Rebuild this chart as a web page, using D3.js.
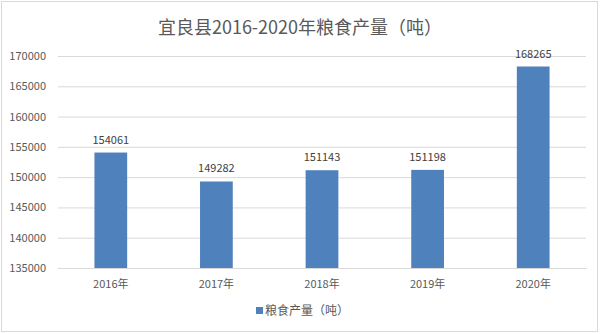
<!DOCTYPE html>
<html>
<head>
<meta charset="utf-8">
<script src="https://cdn.jsdelivr.net/npm/d3@7"></script>
<style>
  body { margin: 0; background: #fff; }
  text { font-family: "Noto Sans CJK SC", "DejaVu Sans", sans-serif; }
</style>
</head>
<body>
<svg width="600" height="334"></svg>
<script>
const years = ["2016年", "2017年", "2018年", "2019年", "2020年"];
const output = [154061, 149282, 151143, 151198, 168265];
const yTicks = [135000, 140000, 145000, 150000, 155000, 160000, 165000, 170000];

const svg = d3.select("svg");
const width = +svg.attr("width");
const height = +svg.attr("height");
const margin = { top: 56, right: 14, bottom: 66, left: 58 };

// chart border
svg.append("rect")
    .attr("x", 1.5).attr("y", 1.5)
    .attr("width", width - 4).attr("height", height - 4)
    .attr("fill", "#fff")
    .attr("stroke", "#d9d9d9");

const x = d3.scaleBand()
    .domain(years)
    .range([margin.left, width - margin.right])
    .paddingInner(0.69)
    .paddingOuter(0.345);

const y = d3.scaleLinear()
    .domain([135000, 170000])
    .range([height - margin.bottom, margin.top]);

// gridlines
svg.append("g")
    .attr("transform", `translate(${margin.left},0)`)
    .call(d3.axisLeft(y).tickValues(yTicks).tickSize(-(width - margin.left - margin.right)).tickFormat(""))
    .call(g => g.select(".domain").remove())
    .call(g => g.selectAll("line").attr("stroke", "#d9d9d9"));

// y labels
svg.append("g")
    .attr("transform", `translate(${margin.left},0)`)
    .call(d3.axisLeft(y).tickValues(yTicks).tickSize(0).tickPadding(12).tickFormat(d3.format("d")))
    .call(g => g.select(".domain").remove())
    .call(g => g.selectAll("text").attr("fill", "#595959").style("font-size", "11px"));

// bars
svg.append("g").selectAll("rect")
    .data(years)
    .join("rect")
    .attr("x", d => x(d))
    .attr("y", (d, i) => y(output[i]))
    .attr("width", x.bandwidth())
    .attr("height", (d, i) => y(135000) - y(output[i]))
    .attr("fill", "#4f81bd");

// value labels
svg.append("g").selectAll("text")
    .data(years)
    .join("text")
    .attr("x", d => x(d) + x.bandwidth() / 2)
    .attr("y", (d, i) => y(output[i]) - 9)
    .attr("text-anchor", "middle")
    .attr("fill", "#404040")
    .style("font-size", "11px")
    .text((d, i) => output[i]);

// x axis
svg.append("g")
    .attr("transform", `translate(0,${height - margin.bottom})`)
    .call(d3.axisBottom(x).tickSize(0).tickPadding(12))
    .call(g => g.select(".domain").attr("stroke", "#d9d9d9"))
    .call(g => g.selectAll("text").attr("fill", "#595959").style("font-size", "11px"));

// title
svg.append("text")
    .attr("x", width / 2)
    .attr("y", 34)
    .attr("text-anchor", "middle")
    .attr("fill", "#595959")
    .style("font-size", "18px")
    .text("宜良县2016-2020年粮食产量（吨）");

// legend
const legend = svg.append("g").attr("transform", "translate(256,311)");
legend.append("rect")
    .attr("x", 0).attr("y", -4)
    .attr("width", 7).attr("height", 7)
    .attr("fill", "#4f81bd");
legend.append("text")
    .attr("x", 9)
    .attr("y", 4)
    .attr("fill", "#595959")
    .style("font-size", "12px")
    .text("粮食产量（吨）");
</script>
</body>
</html>
